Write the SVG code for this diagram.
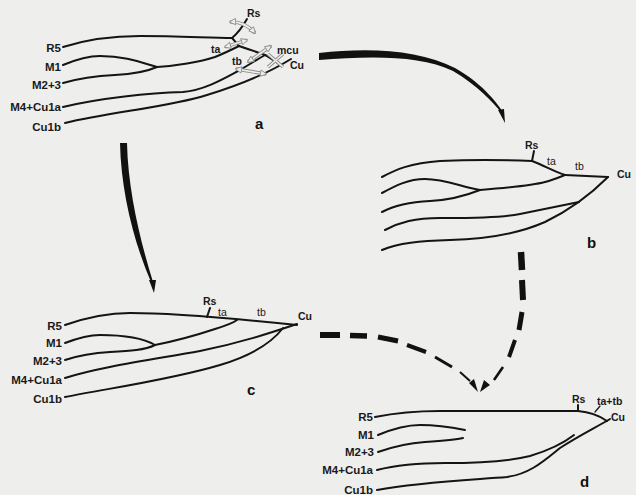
<svg xmlns="http://www.w3.org/2000/svg" xmlns:xlink="http://www.w3.org/1999/xlink" width="636" height="495" viewBox="0 0 636 495">
  <style>
    .vein { fill: none; stroke: #141414; stroke-width: 2; stroke-linecap: round; stroke-linejoin: round; }
    .lbl { font-family: "Liberation Sans", Arial, sans-serif; font-size: 11.5px; font-weight: bold; fill: #1a1a1a; }
    .end { text-anchor: end; }
    .sm { font-family: "Liberation Sans", Arial, sans-serif; font-size: 10.5px; font-weight: bold; fill: #1a1a1a; }
    .thin { font-family: "Liberation Sans", Arial, sans-serif; font-size: 10.5px; fill: #1a1a1a; }
    .tag { font-family: "Liberation Sans", Arial, sans-serif; font-size: 15px; font-weight: bold; fill: #111; }
    .ho { fill: none; stroke: #8c8c8c; stroke-width: 3.4; stroke-linecap: butt; }
    .hi { fill: none; stroke: #eeeeec; stroke-width: 1.6; stroke-linecap: butt; }
    .dash { fill: none; stroke: #111; stroke-linecap: butt; }
    .solid { fill: #111; stroke: none; }
  </style>
  <defs>
    <marker id="hh" viewBox="0 0 10 10" refX="8" refY="5" markerWidth="8" markerHeight="8" markerUnits="userSpaceOnUse" orient="auto-start-reverse">
      <path d="M1,1 L9,5 L1,9 Z" fill="#eeeeec" stroke="#8c8c8c" stroke-width="1.1"/>
    </marker>
    <path id="h1" d="M230,22 Q244,21 255,33"/>
    <path id="h2" d="M225,47 L247,40"/>
    <path id="h3" d="M248,62 L271,46"/>
    <path id="h4" d="M236,69 L266,74"/>
    <path id="hx" d="M268,54 L283,67 M283,54 L268,67"/>
  </defs>

  <rect width="636" height="495" fill="#eeeeec"/>

  <!-- panel a: ancestral venation with movement arrows -->
  <g id="panel-a">
    <path class="vein" d="M63,47 C85,40 110,36 140,36 C180,36 210,38 232,38"/>
    <path class="vein" d="M232,38 C238,33 243,26 247,19"/>
    <path class="vein" d="M232,38 C235,41 237,44 239,46"/>
    <path class="vein" d="M63,65 C75,60 88,56 100,56 C125,56 140,62 157,67"/>
    <path class="vein" d="M63,83 C80,78 95,76 115,75 C135,74 148,71 157,67"/>
    <path class="vein" d="M157,67 C175,66 200,62 215,57 C225,53 233,49 239,46"/>
    <path class="vein" d="M239,46 C248,49 257,52 265,55 C271,58 276,62 281,65"/>
    <path class="vein" d="M63,107 C100,98 150,93 183,92 C205,90 225,78 240,70 C250,64 258,59 265,55"/>
    <path class="vein" d="M65,123 C110,112 170,107 207,95 C240,85 270,72 291,59"/>
    <g>
      <use xlink:href="#h1" class="ho"/><use xlink:href="#h1" class="hi" marker-start="url(#hh)" marker-end="url(#hh)"/>
      <use xlink:href="#h2" class="ho"/><use xlink:href="#h2" class="hi" marker-start="url(#hh)" marker-end="url(#hh)"/>
      <use xlink:href="#h3" class="ho"/><use xlink:href="#h3" class="hi" marker-start="url(#hh)" marker-end="url(#hh)"/>
      <use xlink:href="#h4" class="ho"/><use xlink:href="#h4" class="hi" marker-start="url(#hh)" marker-end="url(#hh)"/>
      <use xlink:href="#hx" class="ho"/><use xlink:href="#hx" class="hi"/>
    </g>
    <text class="lbl end" x="61" y="52">R5</text>
    <text class="lbl end" x="61" y="71">M1</text>
    <text class="lbl end" x="61" y="89">M2+3</text>
    <text class="lbl end" x="61" y="111">M4+Cu1a</text>
    <text class="lbl end" x="61" y="131">Cu1b</text>
    <text class="sm" x="247" y="17">Rs</text>
    <text class="sm" x="211" y="53">ta</text>
    <text class="sm" x="232" y="65">tb</text>
    <text class="sm" x="277" y="54">mcu</text>
    <text class="sm" x="290" y="69">Cu</text>
    <text class="tag" x="255" y="129">a</text>
  </g>

  <!-- panel b -->
  <g id="panel-b">
    <path class="vein" d="M382,177 C395,170 410,163 440,161 C480,159 510,160 532,161"/>
    <path class="vein" d="M532,161 L534,151"/>
    <path class="vein" d="M532,161 C545,166 555,172 565,175"/>
    <path class="vein" d="M565,175 L608,177"/>
    <path class="vein" d="M382,193 C395,186 408,179 425,179 C445,179 462,187 480,190"/>
    <path class="vein" d="M382,212 C395,205 410,202 430,201 C450,200 465,196 480,190"/>
    <path class="vein" d="M480,190 C505,188 530,186 545,182 C553,180 560,177 565,175"/>
    <path class="vein" d="M385,230 C400,222 415,218 440,218 C470,218 500,218 520,214 C545,209 565,205 579,202"/>
    <path class="vein" d="M382,250 C398,243 420,241 450,240 C490,239 520,233 545,222 C570,210 590,195 608,177"/>
    <text class="sm" x="525" y="149">Rs</text>
    <text class="thin" x="547" y="165">ta</text>
    <text class="thin" x="575" y="170">tb</text>
    <text class="sm" x="617" y="178">Cu</text>
    <text class="tag" x="587" y="248">b</text>
  </g>

  <!-- panel c -->
  <g id="panel-c">
    <path class="vein" d="M65,325 C85,318 105,313 130,313 C170,313 230,318 297,325"/>
    <path class="vein" d="M207,317 L210,308"/>
    <path class="vein" d="M65,343 C78,338 88,335 100,335 C125,335 143,338 155,345"/>
    <path class="vein" d="M65,360 C80,355 92,353 110,352 C130,351 145,350 155,345"/>
    <path class="vein" d="M155,345 C175,341 200,334 215,329 C228,325 233,323 237,320"/>
    <path class="vein" d="M65,378 C100,367 150,360 200,351 C240,343 270,333 297,324"/>
    <path class="vein" d="M65,397 C110,388 170,380 220,365 C250,356 270,345 283,328"/>
    <text class="lbl end" x="62" y="330">R5</text>
    <text class="lbl end" x="62" y="347">M1</text>
    <text class="lbl end" x="62" y="365">M2+3</text>
    <text class="lbl end" x="62" y="384">M4+Cu1a</text>
    <text class="lbl end" x="62" y="403">Cu1b</text>
    <text class="sm" x="203" y="305">Rs</text>
    <text class="thin" x="218" y="316">ta</text>
    <text class="thin" x="257" y="316">tb</text>
    <text class="sm" x="298" y="320">Cu</text>
    <text class="tag" x="247" y="395">c</text>
  </g>

  <!-- panel d -->
  <g id="panel-d">
    <path class="vein" d="M375,417 C395,413 415,411 440,411 L578,411 C590,412 600,416 607,421"/>
    <path class="vein" d="M578,411 L578,405"/>
    <path class="vein" d="M595,412 L600,406" style="stroke-width:1.2"/>
    <path class="vein" d="M378,435 C390,430 405,425 420,425 C440,425 455,428 465,430"/>
    <path class="vein" d="M378,452 C395,446 410,443 425,442 C440,441 455,440 463,438"/>
    <path class="vein" d="M377,470 C400,464 420,463 445,463 C480,463 510,461 530,456 C550,450 565,442 574,435"/>
    <path class="vein" d="M377,490 C420,482 470,480 507,477 C530,474 545,460 560,448 C580,435 595,428 610,419"/>
    <text class="lbl end" x="373" y="421">R5</text>
    <text class="lbl end" x="374" y="439">M1</text>
    <text class="lbl end" x="374" y="456">M2+3</text>
    <text class="lbl end" x="373" y="474">M4+Cu1a</text>
    <text class="lbl end" x="373" y="494">Cu1b</text>
    <text class="sm" x="572" y="403">Rs</text>
    <text class="sm" x="597" y="405">ta+tb</text>
    <text class="sm" x="611" y="421">Cu</text>
    <text class="tag" x="580" y="487">d</text>
  </g>

  <!-- connectors between panels -->
  <g id="connectors">
    <!-- a to b: tapered solid arrow -->
    <path class="solid" d="M319,53 C370,47 420,50 455,68 C480,82 495,100 503,112 L501.5,113 C492,101 478,86 453,71 C420,55 370,56 319,60 Z"/>
    <path class="solid" d="M505,123 L498,110 L504,109 Z"/>
    <!-- a to c: tapered solid arrow -->
    <path class="solid" d="M120,143 C121,190 133,240 151,282 L153,282 C140,240 128,190 127,143 Z"/>
    <path class="solid" d="M154,293 L149,280 L156,280 Z"/>
    <!-- b to d: dashed tapered arrow -->
    <path class="dash" d="M521,252 L522,270" stroke-width="6.5"/>
    <path class="dash" d="M522,280 L523,300" stroke-width="6"/>
    <path class="dash" d="M522,312 L519,330" stroke-width="5"/>
    <path class="dash" d="M515,340 L509,357" stroke-width="4"/>
    <path class="dash" d="M503,367 L494,380" stroke-width="2.6"/>
    <path class="solid" d="M480,392 L484,380 L490,385 Z"/>
    <!-- c to d: dashed tapered arrow -->
    <path class="dash" d="M320,335 L340,335" stroke-width="6"/>
    <path class="dash" d="M350,335.5 L367,336" stroke-width="5.5"/>
    <path class="dash" d="M378,337 L398,341" stroke-width="5"/>
    <path class="dash" d="M407,345 L426,352" stroke-width="4"/>
    <path class="dash" d="M435,357 L452,367" stroke-width="3"/>
    <path class="dash" d="M460,372 L470,381" stroke-width="2"/>
    <path class="solid" d="M478,392 L469,383 L474,379 Z"/>
  </g>
</svg>
